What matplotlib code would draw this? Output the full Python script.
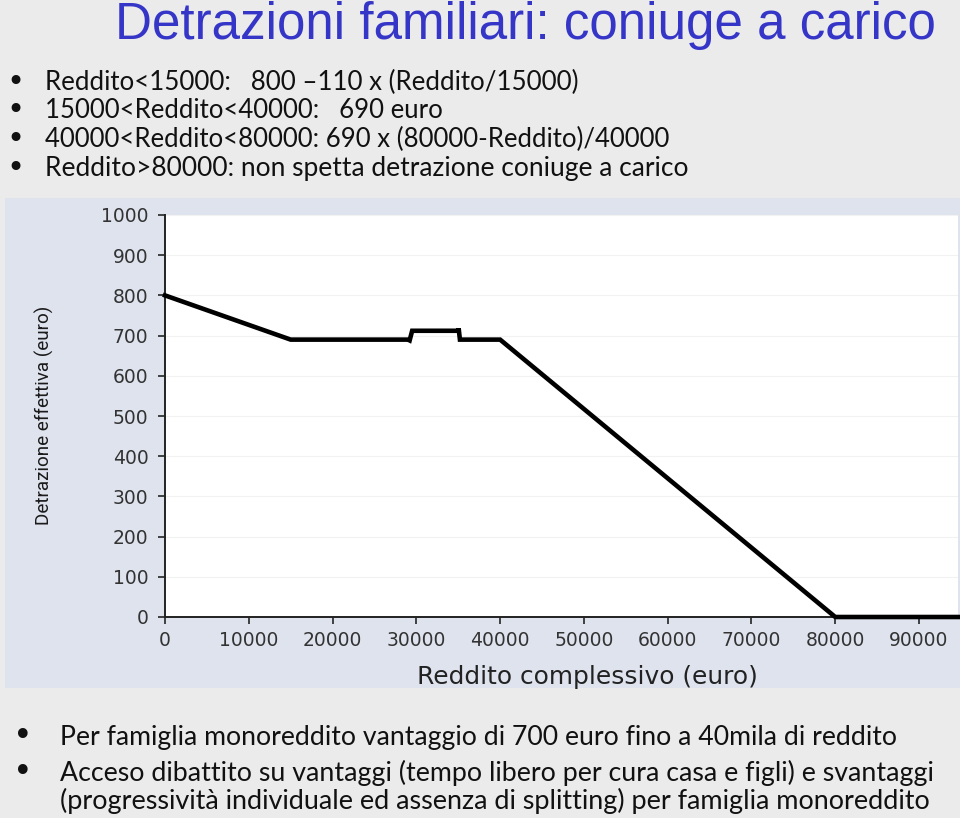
import matplotlib
matplotlib.use("Agg")
import matplotlib.pyplot as plt

# ---- data ----
income = [0, 15000, 29000, 29200, 29500, 35000, 35050, 35200, 40000, 80000, 95000]
deduction = [800, 690, 690, 688, 712, 712, 718, 690, 690, 0, 0]
x_ticks = [0, 10000, 20000, 30000, 40000, 50000, 60000, 70000, 80000, 90000]
y_ticks = [0, 100, 200, 300, 400, 500, 600, 700, 800, 900, 1000]

title = "Detrazioni familiari: coniuge a carico"
top_bullets = [
    "Reddito<15000:   800 \u2013110 x (Reddito/15000)",
    "15000<Reddito<40000:   690 euro",
    "40000<Reddito<80000: 690 x (80000-Reddito)/40000",
    "Reddito>80000: non spetta detrazione coniuge a carico",
]
bottom_lines = [
    "Per famiglia monoreddito vantaggio di 700 euro fino a 40mila di reddito",
    "Acceso dibattito su vantaggi (tempo libero per cura casa e figli) e svantaggi",
    "(progressivit\u00e0 individuale ed assenza di splitting) per famiglia monoreddito",
]
xlabel = "Reddito complessivo (euro)"
ylabel = "Detrazione effettiva (euro)"

W, H = 960, 818
fig = plt.figure(figsize=(W / 100, H / 100), dpi=100)
fig.patch.set_facecolor("#ebebeb")

def px(x, y):
    return x / W, 1 - y / H

renderer = fig.canvas.get_renderer()

def fit_text(s, x0, x1, y, size0=20, **kw):
    t = fig.text(*px(x0, y), s, fontsize=size0, va="center", ha="left", **kw)
    bb = t.get_window_extent(renderer=renderer)
    t.set_fontsize(size0 * (x1 - x0) / bb.width)
    return t

# chart panel background
panel = fig.add_axes([5 / W, 1 - 688 / H, (960 - 5) / W, (688 - 198) / H], zorder=-5)
panel.set_facecolor("#dfe3ee")
panel.set_xticks([])
panel.set_yticks([])
for sp in panel.spines.values():
    sp.set_visible(False)

# title
fit_text(title, 115, 935, 25, family="Liberation Sans", color="#3535c8")

# top bullets
body_font = "Lato"
x_ends = [578, 443, 669, 690]
for i, s in enumerate(top_bullets):
    yy = 82 + i * 28.7
    fig.text(*px(6, yy), "\u2022", fontsize=22, va="center", ha="left",
             family="DejaVu Sans", color="#111111")
    fit_text(s, 45, x_ends[i], yy, family=body_font, color="#111111")

# bottom bullets
b_ys = [737, 773, 801]
b_ends = [898, 933, 933]
for i, s in enumerate(bottom_lines):
    fit_text(s, 60, b_ends[i], b_ys[i], family=body_font, color="#111111")
for i in (0, 1):
    fig.text(*px(13, b_ys[i]), "\u2022", fontsize=24, va="center", ha="left",
             family="DejaVu Sans", color="#111111")

# chart axes
l, b = px(165, 617)
ax = fig.add_axes([l, b, (958 - 165) / W, (617 - 215) / H], zorder=2)
ax.set_facecolor("white")
ax.plot(income, deduction, color="black", lw=3.3, solid_joinstyle="miter", zorder=3,
        clip_on=False)
ax.set_xlim(0, 94650)
ax.set_ylim(0, 1000)
ax.set_xticks(x_ticks)
ax.set_yticks(y_ticks)
tick_kw = dict(fontsize=13.5, family="DejaVu Sans", color="#333333")
ax.set_xticklabels([str(v) for v in x_ticks], **tick_kw)
ax.set_yticklabels([str(v) for v in y_ticks], **tick_kw)
for sp in ("top", "right"):
    ax.spines[sp].set_visible(False)
for sp in ("left", "bottom"):
    ax.spines[sp].set_color("#222222")
    ax.spines[sp].set_linewidth(1.4)
ax.grid(axis="y", color="#f2f2f2", lw=0.8, zorder=0)
ax.tick_params(axis="both", direction="out", length=5, width=1.3, color="#333333")
ax.tick_params(axis="y", pad=7)
ax.tick_params(axis="x", pad=5)

xl = fig.text(*px(587, 677), xlabel, ha="center", va="center",
              family="DejaVu Sans", fontsize=14.5, color="#222222")
yl = fig.text(*px(44, 415), ylabel, ha="center", va="center", rotation=90,
              family="Roboto", fontsize=17, color="#1a1a1a")
bb = yl.get_window_extent(renderer=renderer)
yl.set_fontsize(17 * 220 / bb.height)
bb = xl.get_window_extent(renderer=renderer)
xl.set_fontsize(14.5 * 341 / bb.width)

fig.savefig("out.png", dpi=100, facecolor=fig.get_facecolor())
